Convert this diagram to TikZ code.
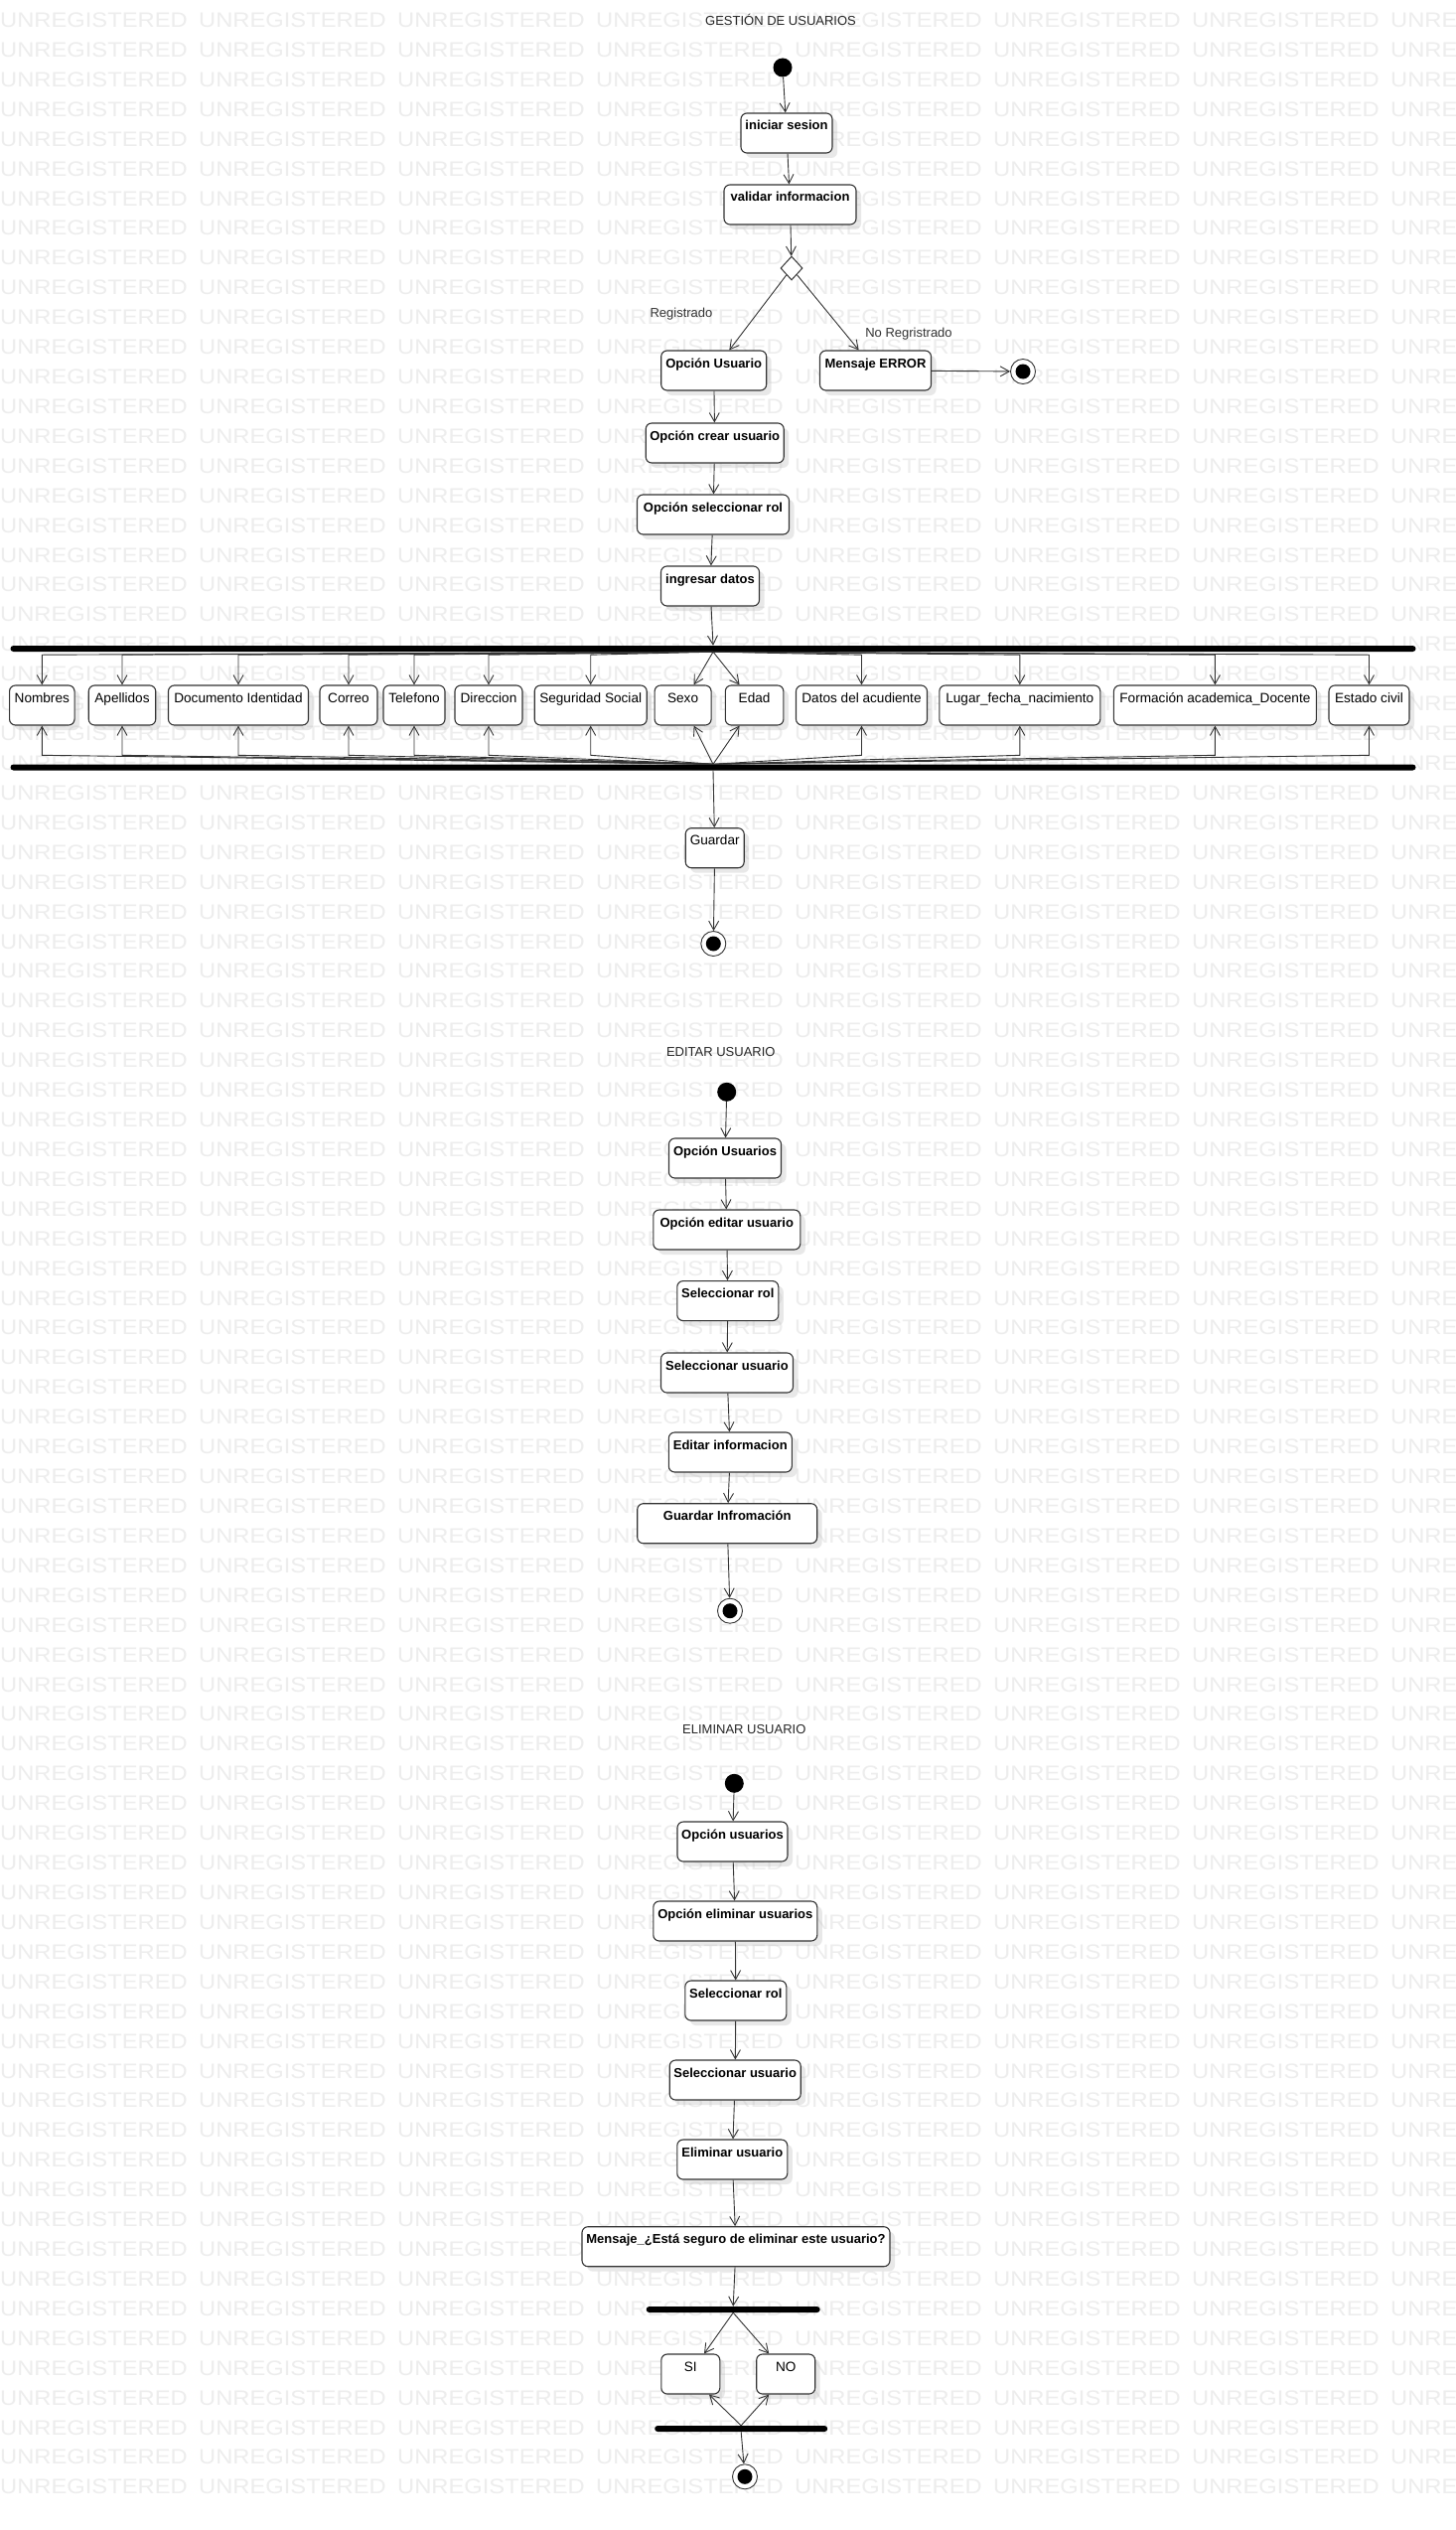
\documentclass[tikz,border=0pt]{standalone}
\usepackage{fontspec}
\setmainfont{Liberation Sans}
\newfontfamily\wmfont[FakeStretch=1.13]{Liberation Sans}
\usepackage{tikz}
\usetikzlibrary{arrows.meta}
\usetikzlibrary{shapes.geometric}
\usetikzlibrary{shadows}
\tikzset{>={Straight Barb[length=9pt,width=10pt]}}
\tikzset{
  act/.style={draw=black!80, line width=1.1pt, rounded corners=6pt, fill=white,
    minimum height=40pt, inner xsep=4pt, inner ysep=4pt, text height=13pt, text depth=19pt,
    font=\fontsize{13}{15}\selectfont\bfseries,
    drop shadow={shadow xshift=5pt, shadow yshift=-5pt, opacity=.35, fill=black!25}},
  actr/.style={act, font=\fontsize{13.6}{15}\selectfont},
  fld/.style={act, font=\fontsize{13.6}{15}\selectfont},
  init/.style={circle, fill=black, minimum size=19pt, inner sep=0pt},
  endpt/.style={circle, draw=black!80, line width=0.9pt, fill=white, minimum size=25pt, inner sep=0pt,
    path picture={\fill[black] (path picture bounding box.center) circle (7.5pt);}},
  dec/.style={diamond, draw=black!80, line width=1pt, fill=white, minimum width=22pt, minimum height=24pt, inner sep=0pt},
  bar/.style={fill=black, minimum height=6pt, inner sep=0pt, rounded corners=3pt},
  ttl/.style={font=\fontsize{13}{15}\selectfont, text=black!85, inner sep=0pt},
  lbl/.style={font=\fontsize{13}{15}\selectfont, text=black!80, inner sep=0pt},
  arr/.style={->, draw=black!80, line width=0.9pt},
  wm/.style={anchor=base west, inner sep=0pt, text=black!7, font=\wmfont\fontsize{21}{21}\selectfont}
}
\begin{document}
\begin{tikzpicture}[x=1pt,y=-1pt]
    \fill[white] (0,0) rectangle (1466,2547);
    \useasboundingbox (0,0) rectangle (1466,2547);
    \begin{scope}
        \clip (0,0) rectangle (1466,2547);
        \foreach \r in {0,...,83} {
          \foreach \c in {0,...,7} {
            \node[wm] at (\c*200, 27.5+\r*29.92) {UNREGISTERED};
          }
        }
    \end{scope}

    \node[ttl] (t1) at (786,20) {GESTIÓN DE USUARIOS};
    \node[init] (s1) at (788,68) {};
    \node[act, minimum width=92pt] (ini) at (792,134) {iniciar sesion};
    \node[act, minimum width=133pt] (val) at (795.5,206) {validar informacion};
    \node[dec] (dec) at (797,270) {};
    \node[act, minimum width=106pt] (opu) at (718.7,373) {Opción Usuario};
    \node[act, minimum width=112pt] (err) at (881.5,373) {Mensaje ERROR};
    \node[endpt] (f0) at (1030,374) {};
    \node[lbl] at (686,316) {Registrado};
    \node[lbl] at (915,336) {No Regristrado};
    \node[act, minimum width=139pt] (cre) at (719.7,446) {Opción crear usuario};
    \node[act, minimum width=153pt] (rol) at (718,518) {Opción seleccionar rol};
    \node[act, minimum width=99pt] (ing) at (715,590) {ingresar datos};
    \node[bar, minimum width=1415pt] (fk1) at (718,653) {};
    \node[bar, minimum width=1415pt] (jn1) at (718,772.5) {};
    \foreach \x/\w/\n/\t in {42.3/65.5/nom/Nombres, 123/67.5/ape/Apellidos,
        240/141/doc/Documento Identidad, 351/58/cor/Correo, 417/62/tel/Telefono,
        492/68/dir/Direccion, 594.7/113/seg/Seguridad Social, 687.6/57/sex/Sexo,
        759.6/58.6/eda/Edad, 867.5/132/dat/Datos del acudiente,
        1026.8/162/lug/Lugar\_fecha\_nacimiento, 1223.4/204/frm/Formación academica\_Docente,
        1378.5/81/est/Estado civil} {
      \node[fld, minimum width=\w pt] (\n) at (\x,710) {\t};
    }
    \node[actr, minimum width=59pt] (gua) at (719.7,853.7) {Guardar};
    \node[endpt] (f1) at (718.3,950) {};

    \draw[arr] (s1) -- (ini);
    \draw[arr] (ini) -- (val);
    \draw[arr] (val) -- (dec);
    \draw[arr] (dec) -- (opu);
    \draw[arr] (dec) -- (err);
    \draw[arr] (err) -- (f0);
    \draw[arr] (opu) -- (cre);
    \draw[arr] (cre) -- (rol);
    \draw[arr] (rol) -- (ing);
    \draw[arr] (ing) -- (fk1.north);
    \foreach \n in {nom,ape,doc,cor,tel,dir,seg,dat,lug,frm,est} {
      \draw[arr] (fk1.south) -- ([yshift=-3pt]fk1.south -| \n.north) -- (\n.north);
      \draw[arr] (jn1.north) -- ([yshift=9pt]jn1.north -| \n.south) -- (\n.south);
    }
    \draw[arr] (fk1.south) -- ([xshift=11pt]sex.north);
    \draw[arr] (fk1.south) -- ([xshift=-15pt]eda.north);
    \draw[arr] (jn1.north) -- ([xshift=11pt]sex.south);
    \draw[arr] (jn1.north) -- ([xshift=-15pt]eda.south);
    \draw[arr] (jn1.south) -- (gua);
    \draw[arr] (gua) -- (f1);

    \node[ttl] (t2) at (725.8,1059) {EDITAR USUARIO};
    \node[init] (s2) at (731.7,1099.3) {};
    \node[act, minimum width=113pt] (ou2) at (730,1166) {Opción Usuarios};
    \node[act, minimum width=148pt] (oe2) at (731.8,1238) {Opción editar usuario};
    \node[act, minimum width=102pt] (sr2) at (732.8,1309.6) {Seleccionar rol};
    \node[act, minimum width=133pt] (su2) at (732,1382) {Seleccionar usuario};
    \node[act, minimum width=124pt] (ei2) at (735.3,1462) {Editar informacion};
    \node[act, minimum width=181pt] (gi2) at (732.2,1533.7) {Guardar Infromación};
    \node[endpt] (f2) at (735,1621.7) {};
    \foreach \a/\b in {s2/ou2, ou2/oe2, oe2/sr2, sr2/su2, su2/ei2, ei2/gi2, gi2/f2} {
      \draw[arr] (\a) -- (\b);
    }

    \node[ttl] (t3) at (749.3,1740.7) {ELIMINAR USUARIO};
    \node[init] (s3) at (739.3,1795.3) {};
    \node[act, minimum width=111pt] (ou3) at (737.5,1854) {Opción usuarios};
    \node[act, minimum width=165pt] (oe3) at (740.3,1934) {Opción eliminar usuarios};
    \node[act, minimum width=102pt] (sr3) at (740.8,2014) {Seleccionar rol};
    \node[act, minimum width=132pt] (su3) at (740.2,2094) {Seleccionar usuario};
    \node[act, minimum width=111pt] (el3) at (737.3,2174) {Eliminar usuario};
    \node[act, minimum width=310pt] (msg) at (741,2261.7) {Mensaje\_¿Está seguro de eliminar este usuario?};
    \node[bar, minimum width=175pt] (fk3) at (738.2,2325) {};
    \node[actr, minimum width=59pt] (si) at (695.3,2390) {SI};
    \node[actr, minimum width=59pt] (no) at (791.2,2390) {NO};
    \node[bar, minimum width=174pt] (jn3) at (746.2,2445) {};
    \node[endpt] (f3) at (750,2493.3) {};
    \foreach \a/\b in {s3/ou3, ou3/oe3, oe3/sr3, sr3/su3, su3/el3, el3/msg} {
      \draw[arr] (\a) -- (\b);
    }
    \draw[arr] (msg) -- (fk3.north);
    \draw[arr] (fk3.south) -- ([xshift=13.7pt]si.north);
    \draw[arr] (fk3.south) -- ([xshift=-17pt]no.north);
    \draw[arr] (jn3.north) -- ([xshift=18.7pt]si.south);
    \draw[arr] (jn3.north) -- ([xshift=-17pt]no.south);
    \draw[arr] (jn3.south) -- (f3);
\end{tikzpicture}
\end{document}
